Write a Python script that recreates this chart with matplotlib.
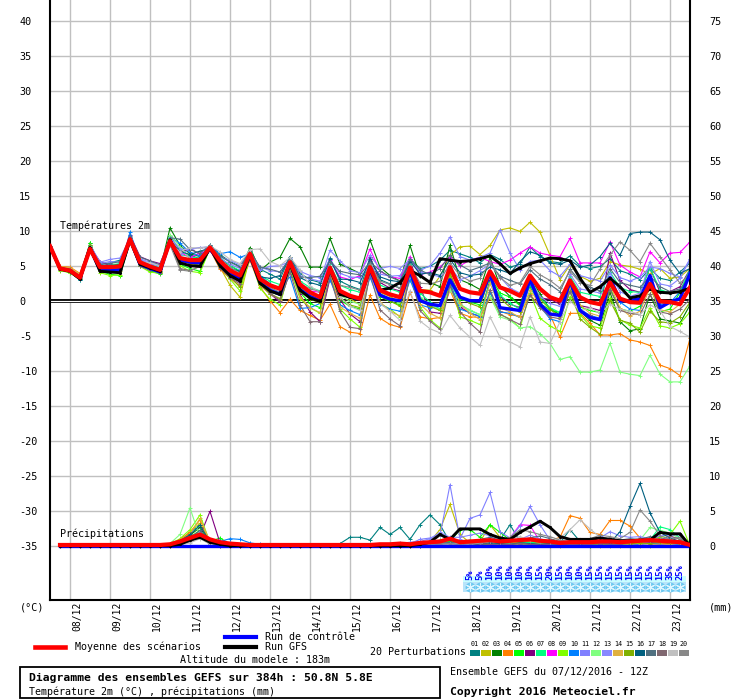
import matplotlib
matplotlib.use('Agg')
import matplotlib.pyplot as plt
import numpy as np
from matplotlib.lines import Line2D
from matplotlib.patches import Rectangle

# ---------------- data ----------------
step_hours = 6
dates = ["08/12", "09/12", "10/12", "11/12", "12/12", "13/12", "14/12", "15/12",
         "16/12", "17/12", "18/12", "19/12", "20/12", "21/12", "22/12", "23/12"]
left_ticks = [40, 35, 30, 25, 20, 15, 10, 5, 0, -5, -10, -15, -20, -25, -30, -35]
right_ticks = [75, 70, 65, 60, 55, 50, 45, 40, 35, 30, 25, 20, 15, 10, 5, 0]
member_names = ["01", "02", "03", "04", "05", "06", "07", "08", "09", "10",
                "11", "12", "13", "14", "15", "16", "17", "18", "19", "20"]
member_colors = ['#008080', '#c0c000', '#008000', '#ff8000', '#00ff00', '#800080',
                 '#00ff80', '#ff00ff', '#80ff00', '#0080ff', '#8080ff', '#80ff80',
                 '#8888ff', '#e0b040', '#80b000', '#006080', '#507080', '#806870',
                 '#c0c0c0', '#888888']
snow_labels = ["5%", "5%", "10%", "10%", "10%", "10%", "10%", "15%", "20%", "15%", "10%",
               "10%", "15%", "15%", "15%", "15%", "15%", "15%", "15%", "15%", "35%", "25%"]
snow_first_step = 42

# temperatures 2m (deg C), every 6h from 07/12 12Z
t01 = [7.8,4.5,4.2,3.2, 7.8,5.2,5.4,5.8, 8.9,5.8,5.1,4.6, 9.2,7.2,6.5,6.0, 8.0,6.6,5.6,4.9, 7.3,4.5,3.8,3.1, 6.3,3.9,3.0,2.6, 6.1,2.8,2.1,1.6, 6.2,3.0,2.4,1.8, 6.0,4.6,4.9,5.8, 7.2,6.7,6.2,5.4, 6.6,5.9,4.8,5.2, 7.7,6.3,5.6,5.4, 6.4,5.0,4.6,4.9, 6.0,4.3,3.8,3.0, 4.6,3.2,2.9,4.1, 5.4]
t02 = [7.8,4.8,4.6,3.5, 7.6,4.9,4.6,4.4, 8.7,5.2,4.5,4.0, 8.6,5.6,5.0,4.9, 7.4,4.8,2.2,0.5, 6.4,2.4,1.2,0.8, 5.3,1.8,0.6,0.2, 4.4,1.0,0.3,-0.6, 4.5,1.2,0.6,-0.3, 4.3,1.6,1.5,3.5, 6.5,7.7,7.8,6.6, 7.9,10.1,10.4,9.9, 11.2,9.8,6.5,3.0, 5.1,3.5,2.8,3.2, 5.6,5.1,4.9,4.5, 3.8,4.6,3.2,3.4, 4.6]
t03 = [7.8,4.6,4.5,3.6, 8.2,5.0,5.1,5.2, 9.0,5.3,4.7,4.3, 10.4,7.9,6.7,6.3, 7.8,6.0,5.0,4.2, 7.6,4.3,5.5,6.2, 8.9,7.7,4.8,4.8, 8.9,5.2,4.6,3.9, 8.7,4.8,3.6,2.8, 7.9,3.5,2.6,2.0, 7.9,3.0,2.4,1.6, 6.2,2.1,0.6,-0.5, 3.4,1.0,-1.2,-2.0, 2.0,-1.5,-2.8,-3.5, 1.2,-3.0,-4.3,-4.0, 1.0,-2.6,-2.9,-3.2, -0.6]
t04 = [7.8,4.9,4.8,3.9, 7.9,4.6,4.3,4.5, 9.1,5.4,4.8,4.1, 8.3,5.7,5.3,5.1, 7.3,4.5,3.2,2.1, 5.8,2.0,0.0,-1.7, 0.2,-1.4,-2.1,-2.8, -0.5,-3.7,-4.5,-4.7, 0.8,-2.5,-3.4,-3.8, 1.2,-2.3,-2.6,-2.4, 1.5,-1.8,-2.3,-2.4, 0.4,-1.5,-2.0,-2.2, 0.9,-0.8,-2.0,-5.2, -1.8,-1.8,-3.2,-4.9, -4.9,-4.7,-5.6,-5.9, -6.4,-9.2,-9.7,-10.7, -5.4]
t05 = [7.8,4.4,4.0,3.0, 8.3,4.2,3.8,3.6, 8.4,5.0,4.3,3.8, 8.7,5.2,4.6,4.2, 7.5,5.0,3.6,2.8, 6.5,2.6,1.3,0.8, 5.0,1.2,-0.4,-1.0, 4.3,0.1,-0.8,-1.2, 4.3,0.6,-0.1,-0.6, 4.5,0.4,-0.6,-1.3, 3.6,0.2,-0.2,-0.6, 3.5,1.1,0.5,-0.7, 2.0,-0.4,-1.3,-1.7, 2.3,-0.9,-1.4,-1.7, 1.7,-1.2,-1.5,-0.8, 2.1,-1.6,-1.2,1.2, 4.2]
t06 = [7.8,4.7,4.4,3.4, 7.7,5.6,5.0,4.6, 9.4,6.3,5.7,5.3, 8.7,6.9,7.5,6.6, 7.3,5.3,3.8,2.9, 5.9,2.2,1.0,-0.2, 4.2,0.9,-1.6,-3.0, 3.2,0.2,-1.9,-3.0, 6.3,2.6,1.8,1.4, 5.6,2.0,-1.6,-1.8, 2.2,-0.9,-1.8,-2.2, 3.0,0.6,-0.5,-1.0, 3.1,0.4,0.2,-0.5, 2.2,-0.7,-1.0,-1.4, 6.8,2.9,1.6,1.2, 4.7,1.2,1.3,2.0, 4.5]
t07 = [7.8,4.6,4.4,3.3, 7.6,4.9,5.1,5.3, 8.6,5.7,5.2,4.7, 8.9,6.6,6.3,6.0, 7.7,6.2,5.0,4.3, 6.9,3.6,2.8,2.3, 5.7,2.8,1.9,1.4, 5.2,2.2,1.6,1.2, 5.5,2.2,1.7,1.2, 5.2,1.1,-0.2,-1.2, 3.0,-0.5,-1.4,-2.0, 2.7,0.8,-0.4,-1.2, 3.4,0.4,-1.0,-1.7, 3.5,1.2,0.9,0.6, 4.1,1.9,1.3,1.2, 4.7,1.6,1.1,1.4, 4.5]
t08 = [7.8,4.6,4.2,3.2, 7.5,4.7,4.5,4.8, 8.8,5.6,5.0,4.5, 8.1,6.9,6.2,6.8, 7.2,5.0,3.4,2.7, 6.5,2.8,2.3,1.6, 5.2,2.6,1.4,1.2, 5.8,3.4,3.0,3.6, 7.4,4.2,3.4,3.2, 6.3,3.7,4.1,4.8, 6.2,5.0,5.8,6.2, 5.6,5.2,5.8,6.8, 7.7,6.8,6.5,6.3, 8.9,5.4,5.4,5.4, 8.4,5.1,4.1,3.4, 7.0,5.4,6.8,6.9, 8.4]
t09 = [7.8,4.3,4.0,3.1, 7.8,4.0,3.6,3.7, 8.5,4.9,4.1,3.9, 8.6,5.0,4.2,4.0, 7.5,4.9,3.1,1.4, 6.2,1.8,0.2,-0.6, 4.7,0.3,-1.0,-1.8, 3.8,-1.2,-2.6,-3.8, 4.1,-0.4,-1.2,-2.3, 3.4,-0.9,-2.7,-3.9, 3.1,-2.3,-2.8,-3.4, 1.2,-2.0,-2.6,-3.9, 1.1,-2.5,-3.6,-4.4, 0.6,-2.0,-3.6,-3.9, 0.4,-2.7,-3.5,-3.9, -1.0,-3.6,-3.9,-3.3, -1.6]
t10 = [7.8,4.5,4.1,3.0, 7.6,4.4,4.2,4.4, 9.8,5.6,5.0,4.6, 9.1,8.2,6.9,6.4, 7.8,6.7,7.0,6.2, 6.7,3.6,2.4,1.8, 3.4,-1.1,-1.0,-0.4, 3.0,-0.6,-1.4,-2.0, 3.4,-0.5,-1.2,-1.5, 3.0,-0.6,-1.0,-0.8, 2.5,-1.2,-1.7,-2.3, 1.2,-1.6,-1.8,-2.4, 2.4,-0.8,-2.6,-3.0, 2.2,-1.2,-2.1,-2.5, 2.8,-0.2,-1.2,-1.4, 3.2,-0.5,-0.3,1.3, 3.2]
t11 = [7.8,4.7,4.3,3.4, 7.9,5.3,5.6,5.5, 9.0,5.9,5.3,4.9, 8.8,6.5,7.4,7.6, 7.5,6.0,5.2,4.6, 6.5,4.4,4.9,5.0, 5.6,4.2,3.6,3.3, 5.9,3.9,3.4,3.3, 5.0,3.8,3.5,3.6, 6.0,4.3,5.0,6.8, 9.1,6.3,5.8,6.2, 6.8,10.1,6.8,4.4, 5.6,5.8,4.3,3.5, 5.2,3.6,3.2,2.8, 5.1,3.3,2.8,3.4, 4.8,4.6,3.9,3.4, 6.0]
t12 = [7.8,4.6,4.2,3.2, 7.8,4.5,4.4,4.2, 8.9,5.3,4.8,4.2, 9.4,7.7,6.0,5.3, 7.6,5.5,4.4,3.6, 6.6,3.0,1.8,1.2, 5.6,1.9,0.8,0.2, 4.6,0.8,-0.1,-0.5, 4.1,1.0,0.3,-0.4, 3.6,0.6,-0.6,-1.3, 1.6,-0.7,-1.3,-2.0, 0.6,-2.3,-2.8,-3.9, -3.7,-4.7,-6.1,-8.4, -8.0,-10.2,-10.2,-9.9, -6.1,-10.2,-10.5,-10.7, -7.8,-10.5,-11.6,-11.6, -9.3]
t13 = [7.8,4.8,4.5,3.6, 8.0,5.5,5.9,6.1, 8.9,6.0,5.5,5.1, 9.0,7.4,7.3,7.6, 7.7,6.2,5.8,5.1, 6.8,4.8,4.3,4.1, 6.1,3.6,3.1,2.8, 7.2,5.7,4.3,4.0, 6.5,4.6,4.9,4.6, 5.9,4.1,3.8,3.4, 4.8,3.0,3.5,4.3, 5.2,3.4,1.8,1.1, 3.1,0.6,-0.4,-0.8, 3.8,1.7,1.4,1.1, 4.0,1.3,0.6,1.1, 5.6,2.4,2.1,3.2, 5.9]
t14 = [7.8,4.9,4.7,3.8, 7.7,4.3,4.1,4.3, 8.7,5.4,4.9,4.4, 8.2,5.6,5.5,5.6, 7.6,5.1,3.9,3.0, 6.8,2.2,1.0,0.1, 5.6,0.6,-1.0,-1.7, 4.1,-0.9,-1.8,-2.5, 3.9,-0.2,-1.5,-2.2, 4.3,-0.5,-1.8,-2.5, 3.9,-0.4,-1.8,-2.7, 2.5,-1.0,-1.6,-2.4, 1.6,-0.6,-1.8,-2.2, 1.8,-0.6,-1.8,-2.2, 2.2,-1.0,-2.2,-1.5, 1.8,-1.3,-1.6,-0.5, 1.6]
t15 = [7.8,4.5,4.1,3.1, 7.9,4.7,4.5,4.6, 8.6,5.1,4.6,4.1, 8.8,5.7,5.4,5.0, 7.4,4.9,3.5,1.9, 6.4,2.4,1.0,0.3, 5.1,1.4,0.2,-0.3, 4.5,0.4,-0.6,-1.0, 4.7,0.8,0.0,-0.8, 4.6,0.0,-0.8,-1.4, 3.9,0.6,-0.4,-0.9, 3.6,0.3,-0.9,-1.6, 3.2,0.2,-1.2,-2.4, 1.4,-2.6,-3.8,-4.8, 0.0,-2.8,-3.2,-4.5, -1.5,-3.0,-3.2,-2.3, -0.2]
t16 = [7.8,4.6,4.3,3.3, 7.6,4.8,5.0,5.1, 8.9,5.6,5.0,4.5, 8.6,7.0,6.6,7.1, 7.4,5.8,4.6,4.2, 6.8,3.4,3.2,3.6, 6.3,3.3,2.6,2.2, 5.9,3.1,3.0,2.6, 5.9,3.4,2.9,2.7, 5.7,3.8,4.0,3.6, 5.9,4.0,3.6,3.8, 4.8,4.4,3.9,5.6, 7.0,6.5,5.4,5.2, 5.8,4.8,5.1,6.3, 8.2,6.5,9.6,9.8, 9.8,8.7,5.8,3.9, 4.6]
t17 = [7.8,4.7,4.5,3.5, 7.7,5.2,5.3,5.6, 9.2,6.2,5.7,5.1, 9.0,8.8,7.3,6.8, 7.9,6.4,5.5,4.8, 7.1,4.8,4.5,4.1, 6.0,3.4,3.3,3.5, 5.6,4.2,3.9,3.7, 5.5,4.3,3.4,2.8, 5.9,4.4,3.7,4.6, 6.5,5.1,4.3,4.8, 5.4,3.5,2.9,2.4, 4.4,3.1,2.3,1.3, 4.5,2.8,1.9,1.4, 4.6,2.6,2.2,1.9, 3.5,2.0,1.3,1.7, 3.3]
t18 = [7.8,4.4,4.1,3.1, 7.5,4.6,4.4,4.6, 8.7,4.9,4.4,4.0, 8.3,4.6,4.3,4.9, 7.5,4.7,3.3,2.4, 6.4,2.8,1.1,0.0, 4.1,-0.6,-3.0,-3.0, 3.6,-1.5,-3.8,-4.0, 4.0,-1.3,-2.6,-3.6, 3.9,-1.4,-2.9,-4.1, 2.2,-1.6,-3.2,-4.5, 1.6,-1.9,-2.7,-3.4, 0.8,-1.0,-2.3,-2.6, 1.3,-1.5,-2.1,-2.8, 1.6,-1.4,-1.8,-2.0, 0.9,-1.6,-1.9,-1.2, 0.2]
t19 = [7.8,4.6,4.3,3.3, 7.6,4.6,4.4,4.4, 8.8,5.6,5.4,5.0, 8.2,7.0,7.6,7.5, 7.8,7.0,5.9,5.3, 7.3,7.4,5.6,5.0, 6.2,4.4,2.1,1.2, 4.5,0.5,-0.8,-1.4, 4.2,-0.4,-1.5,-2.8, 1.4,-2.9,-4.0,-4.6, -2.1,-3.9,-5.2,-6.4, -2.3,-5.2,-5.9,-6.6, -2.3,-5.9,-6.1,-3.0, 0.0,-1.5,-1.0,-1.8, -0.5,-1.2,-1.5,-2.0, -0.6,-1.4,-3.7,-4.4, -5.2]
t20 = [7.8,4.8,4.4,3.4, 7.5,4.7,4.6,4.5, 8.8,5.5,4.8,4.3, 8.0,4.4,4.2,5.0, 7.2,5.6,4.8,3.9, 6.4,3.3,1.9,1.2, 5.3,2.5,1.7,1.3, 5.0,2.2,1.9,1.5, 5.2,2.8,2.3,1.8, 5.1,2.5,2.4,2.8, 5.4,3.6,2.8,3.2, 5.5,3.3,2.2,2.6, 4.9,3.7,2.9,1.8, 4.2,2.6,2.2,4.5, 6.5,8.4,7.2,5.6, 8.2,6.3,4.4,2.5, 3.8]
t_ctrl = [7.8,4.6,4.3,3.2, 7.5,4.4,4.3,4.4, 8.8,5.2,4.6,4.1, 8.6,5.8,5.5,5.4, 7.5,5.3,3.9,3.1, 6.6,2.6,1.5,0.9, 5.4,1.6,0.6,0.0, 4.6,1.2,0.5,0.3, 4.5,0.8,0.2,0.0, 4.3,0.0,-0.5,-0.7, 3.0,0.5,0.0,0.0, 4.0,-1.0,-1.2,-1.4, 3.1,-0.5,-1.9,-2.1, 2.9,-1.4,-2.4,-2.7, 3.3,0.0,0.0,0.3, 3.6,-1.0,-0.2,0.3, 3.9]
t_gfs = [7.8,4.5,4.2,3.1, 7.6,4.2,4.1,4.0, 8.7,5.2,4.7,4.2, 8.7,5.4,5.0,4.9, 7.6,5.0,3.6,2.8, 6.5,2.5,1.4,0.9, 5.3,1.5,0.4,-0.1, 4.5,0.9,0.5,0.4, 4.5,1.5,1.8,2.6, 4.3,3.6,2.6,6.0, 5.8,5.6,5.7,6.0, 6.4,5.3,3.9,4.7, 5.3,5.7,6.1,6.0, 5.7,3.2,1.2,2.0, 3.2,2.0,0.4,0.7, 1.7,1.2,1.1,1.3, 1.8]
t_mean = [7.8,4.6,4.3,3.3, 7.4,4.8,4.8,4.9, 8.8,5.5,4.9,4.4, 8.5,6.1,5.8,5.8, 7.6,5.7,4.3,3.6, 6.7,3.1,2.2,1.7, 5.5,2.3,1.2,0.5, 4.7,1.4,0.7,0.3, 4.8,1.5,0.9,0.5, 4.7,1.4,1.2,0.7, 4.8,1.7,1.2,1.0, 4.2,1.9,1.4,0.7, 3.6,1.7,0.5,0.0, 2.9,0.5,-0.2,-0.5, 2.6,0.3,-0.2,-0.3, 2.4,-0.1,-0.2,-0.5, 1.9]

# precipitation (mm / 6h), from step 1 (07/12 18Z) to step 64
p01 = [0,0,0,0,0,0,0,0, 0,0,0,0.1,0.8,1.9,3.0,0.6, 0.2,0,0,0,0,0,0,0, 0,0,0,0,0.3,1.2,1.2,0.8, 2.6,1.6,2.6,0.9,3.0,4.4,3.0,0.5, 0.1,0.3,0.2,0.5,0.8,3.0,0.6,0.2, 0.3,0.2,0.4,2.3,0.6,0.3,0.2,0.4, 0.3,0.2,0.5,0.3,0.2,0.6,0.4,0]
p02 = [0,0,0,0,0,0,0,0, 0,0,0,0.1,0.5,2.0,3.2,0.4, 0.1,0,0,0,0,0,0,0, 0,0,0,0,0,0,0,0, 0,0,0,0,0.2,0.6,2.3,5.9, 1.6,0.4,0.5,3.0,1.2,0.6,0.3,0.2, 0.1,0,0,0.2,0.1,0,0,0, 0,0,0,0,0.1,0.2,0.3,0]
p03 = [0,0,0,0,0,0,0,0, 0,0,0,0.1,0.6,1.5,2.6,0.3, 0.1,0,0,0,0,0,0,0, 0,0,0,0,0,0,0,0, 0,0,0,0,0.1,0.2,0.6,0.4, 0.3,0.5,0.6,0.4,0.2,0.5,0.8,0.6, 0.4,0.3,0.2,0.3,0.2,0.1,0.2,0.3, 0.2,0.4,0.6,0.5,0.4,0.3,0.6,0]
p04 = [0,0,0,0,0,0,0,0, 0,0,0,0.1,0.9,1.9,3.7,0.5, 0.4,0.3,0,0,0,0,0,0, 0,0,0,0,0,0,0,0, 0,0,0,0.1,0.3,0.2,0.4,0.6, 0.3,0.2,0.5,0.7,0.4,0.3,0.5,0.6, 0.4,0.7,1.2,4.3,3.9,1.9,1.6,3.6, 3.6,2.8,1.1,0.5,0.3,0.4,0.2,0]
p05 = [0,0,0,0,0,0,0,0, 0,0,0,0,0.4,1.2,2.2,0.6, 1.1,0.2,0,0,0,0,0,0, 0,0,0,0,0,0,0,0, 0,0,0,0,0.2,0.4,0.8,0.6, 2.3,2.3,1.2,3.0,1.9,0.8,0.4,0.2, 0.2,0.1,0.1,0.2,0.1,0,0.1,0.2, 0.3,0.2,0.2,0.4,0.6,0.8,0.5,0]
p06 = [0,0,0,0,0,0,0,0, 0,0,0,0,0.2,0.6,1.4,4.9, 0.4,0.2,0,0,0,0,0,0, 0,0,0,0,0,0,0,0, 0,0,0,0,0,0.1,0.2,0.3, 0.2,0.3,0.2,0.4,0.3,0.2,0.4,0.3, 0.2,0.1,0.1,0.2,0.1,0.1,0.2,0.1, 0.2,0.1,0.3,0.4,0.6,0.8,0.5,0]
p07 = [0,0,0,0,0,0,0,0, 0,0,0,0,0.3,0.9,1.8,0.4, 0.1,0,0,0,0,0,0,0, 0,0,0,0,0,0,0,0, 0,0,0,0,0.2,0.3,0.6,0.4, 0.5,0.8,0.3,0.6,0.4,0.3,0.3,0.5, 0.3,0.2,0.3,0.5,0.2,0.2,0.3,0.4, 0.3,0.5,0.6,0.8,2.7,2.3,1.1,0]
p08 = [0,0,0,0,0,0,0,0, 0,0,0,0,0.2,0.7,1.6,0.3, 0,0,0,0,0,0,0,0, 0,0,0,0,0,0,0,0, 0,0,0,0,0.1,0.2,0.4,0.3, 0.5,0.3,0.4,0.6,0.4,1.1,3.0,2.9, 0.6,0.3,0.2,0.3,0.2,0.1,0.2,0.3, 0.2,0.3,0.4,0.6,0.5,0.7,0.3,0]
p09 = [0,0,0,0,0,0,0,0, 0,0,0,0.2,1.0,2.3,4.4,0.4, 0.1,0,0,0,0,0,0,0, 0,0,0,0,0,0,0,0, 0,0,0,0,0,0.1,0.2,0.3, 0.2,0.4,0.5,0.3,0.2,0.3,0.4,0.2, 0.2,0.1,0.1,0.2,0.1,0.2,0.1,0.2, 0.3,0.2,0.4,0.8,1.2,1.6,3.5,0]
p10 = [0,0,0,0,0,0,0,0, 0,0,0,0,0.4,1.0,1.8,0.5, 0.6,1.0,0.9,0.4,0.2,0.1,0,0, 0,0,0,0,0,0,0,0, 0,0,0,0,0,0.1,0.2,0.3, 0.2,0.3,0.2,0.1,0.2,0.3,0.2,0.1, 0.1,0.2,0.1,0.1,0.2,0.3,0.2,0.1, 0.2,0.1,0.2,0.3,0.2,0.1,0.2,0]
p11 = [0,0,0,0,0,0,0,0, 0,0,0,0,0.3,0.8,2.0,0.4, 0,0,0,0,0,0,0,0, 0,0,0,0,0,0,0,0, 0,0.2,0.4,0.3,0.9,1.1,1.5,8.7, 1.0,3.9,4.4,7.6,2.0,1.1,2.8,5.6, 3.0,0.8,0.3,0.4,0.6,0.5,0.4,0.6, 0.5,0.4,0.6,0.8,0.9,1.1,1.2,0]
p12 = [0,0,0,0,0,0,0,0, 0,0,0,0.3,1.6,5.4,1.1,0.5, 0.2,0,0,0,0,0,0,0, 0,0,0,0,0,0,0,0, 0,0,0,0,0,0.1,0.2,0.3, 0.4,0.8,0.5,0.3,0.2,0.4,0.3,0.2, 0.1,0.2,0.3,0.2,0.1,0.2,0.1,0.2, 0.3,0.4,0.8,2.6,2.2,1.8,1.0,0]
p13 = [0,0,0,0,0,0,0,0, 0,0,0,0,0.2,0.6,1.3,0.3, 0,0,0,0,0,0,0,0, 0,0,0,0,0,0,0,0, 0,0.1,0.3,0.5,0.6,1.0,1.9,1.2, 1.2,1.5,1.8,1.4,1.0,0.7,0.9,1.5, 1.0,0.6,0.5,0.7,0.8,0.9,1.1,2.0, 1.4,1.2,1.3,1.0,1.4,1.5,1.6,0]
p14 = [0,0,0,0,0,0,0,0, 0,0,0,0.1,0.8,1.7,3.9,0.6, 0.3,0.2,0,0,0,0,0,0, 0,0,0,0,0,0,0,0, 0,0,0,0,0.1,0.1,0.2,0.2, 0.3,0.2,0.1,0.2,0.3,0.2,0.1,0.2, 0.3,0.2,0.1,0.2,0.3,0.2,0.1,0.2, 0.1,0.2,0.3,0.2,0.1,0.2,0.3,0]
p15 = [0,0,0,0,0,0,0,0, 0,0,0,0,0.3,0.9,1.5,0.3, 0.1,0,0,0,0,0,0,0, 0,0,0,0,0,0,0,0, 0,0,0,0,0,0.1,0.1,0.2, 0.1,0.2,0.1,0.2,0.1,0.2,0.3,0.2, 0.1,0.2,0.1,0.2,0.3,0.2,0.1,0.2, 0.2,0.3,0.4,0.3,0.5,0.4,0.3,0]
p16 = [0,0,0,0,0,0,0,0, 0,0,0,0.1,0.7,1.6,2.9,0.5, 0.1,0,0,0,0,0,0,0, 0,0,0,0,0,0,0,0, 0,0,0,0,0,0.1,0.2,0.3, 0.2,0.3,0.2,0.4,0.3,0.2,0.4,0.3, 0.2,0.3,0.2,0.3,0.2,0.4,0.3,0.4, 2.0,5.6,8.9,4.7,1.9,1.1,0.6,0]
p17 = [0,0,0,0,0,0,0,0, 0,0,0,0,0.4,1.1,2.2,0.5, 0.1,0,0,0,0,0,0,0, 0,0,0,0,0,0,0,0, 0,0,0,0,0.1,0.2,0.3,0.5, 0.3,0.6,0.9,1.2,0.8,0.6,0.9,1.1, 1.4,1.0,0.6,0.5,0.7,0.9,1.2,1.0, 0.8,1.0,0.9,1.3,1.0,0.8,0.6,0]
p18 = [0,0,0,0,0,0,0,0, 0,0,0,0,0.2,0.6,1.2,0.2, 0,0,0,0,0,0,0,0, 0,0,0,0,0,0,0,0, 0,0,0,0,0,0.1,0.1,0.2, 0.1,0.2,0.3,0.2,0.1,0.2,0.3,0.2, 0.1,0.2,0.3,0.2,0.1,0.2,0.3,0.2, 0.2,0.5,0.9,1.0,0.8,1.4,0.9,0]
p19 = [0,0,0,0,0,0,0,0, 0,0,0,0,0.1,0.4,1.0,0.2, 0,0,0,0,0,0,0,0, 0,0,0,0,0,0,0,0, 0,0,0,0,0,0.1,0.2,0.2, 0.3,0.2,0.4,0.6,0.5,0.9,1.3,0.8, 0.6,0.5,1.1,2.3,3.7,2.4,1.2,0.8, 0.6,0.5,0.8,1.0,0.9,0.7,0.4,0]
p20 = [0,0,0,0,0,0,0,0, 0,0,0,0,0.3,0.8,1.7,0.4, 0,0,0,0,0,0,0,0, 0,0,0,0,0,0,0,0, 0,0,0,0,0,0.1,0.2,0.3, 0.2,0.3,0.4,0.6,0.5,1.2,2.3,2.0, 1.6,1.3,0.8,0.6,0.4,1.0,1.5,1.3, 1.0,1.9,5.1,3.5,1.4,0.9,1.2,0]
p_ctrl = [0,0,0,0,0,0,0,0, 0,0,0,0,0,0,0,0, 0,0,0,0,0,0,0,0, 0,0,0,0,0,0,0,0, 0,0,0,0,0,0,0,0, 0,0,0,0,0,0,0,0, 0,0,0,0,0,0,0,0, 0,0,0,0,0,0,0,0]
p_gfs = [0,0,0,0,0,0,0,0, 0,0,0,0,0.2,0.8,1.2,0.5, 0.2,0,0,0,0,0,0,0, 0,0,0,0,0,0,0,0, 0,0,0,0,0.2,0.5,1.6,0.9, 2.4,2.4,2.4,1.6,1.1,0.9,1.9,2.7, 3.5,2.6,1.3,0.9,0.9,0.9,1.1,0.9, 0.7,0.7,0.8,0.8,1.9,1.7,1.7,0.0]
p_mean = [0.1,0.1,0.1,0.1,0.1,0.1,0.1,0.1, 0.1,0.1,0.1,0.2,0.6,1.1,1.6,0.9, 0.5,0.3,0.2,0.1,0.1,0.1,0.1,0.1, 0.1,0.1,0.1,0.1,0.1,0.1,0.1,0.1, 0.2,0.2,0.3,0.2,0.4,0.5,0.6,1.0, 0.5,0.6,0.7,0.8,0.6,0.7,0.8,0.9, 0.7,0.6,0.4,0.5,0.5,0.5,0.6,0.6, 0.5,0.6,0.7,0.8,0.7,0.6,0.5,0.1]

temps = [t01, t02, t03, t04, t05, t06, t07, t08, t09, t10,
         t11, t12, t13, t14, t15, t16, t17, t18, t19, t20]
precs = [p01, p02, p03, p04, p05, p06, p07, p08, p09, p10,
         p11, p12, p13, p14, p15, p16, p17, p18, p19, p20]

# ---------------- figure ----------------
W, H = 740, 700
MONO = 'DejaVu Sans Mono'
PREC_OFFSET = -35   # 0 mm drawn at -35 deg C on the shared axis

fig = plt.figure(figsize=(W / 100, H / 100), dpi=100)
fig.patch.set_facecolor('white')
ax = fig.add_axes([50 / W, 100 / H, 640 / W, 600 / H])
ax.set_xlim(0, 384)
ax.set_ylim(-42.76, 42.96)
ax.set_xticks([])
ax.set_yticks([])
ax.spines['top'].set_visible(False)
for s in ('left', 'right', 'bottom'):
    ax.spines[s].set_linewidth(1.5)
    ax.spines[s].set_color('black')


def fx(X):
    return X / W


def fy(Y):
    return 1 - Y / H


def ty(Y):   # pixel row -> data y
    return (300.7 - Y) / 7.0


def hx(X):   # pixel column -> data x (hours)
    return (X - 50) * 0.6


# grid
for v in left_ticks:
    ax.axhline(v, color='#c0c0c0', lw=1.0, zorder=0)
for k in range(len(dates)):
    ax.axvline(12 + 24 * k, color='#c0c0c0', lw=1.0, zorder=0)

# 0 deg double line
ax.axhline(0, color='black', lw=2.8, zorder=1)
ax.axhline(0, color='white', lw=0.9, zorder=1.1)

hours = np.arange(len(t_mean)) * step_hours
phours = hours[1:]

for t, p, c in zip(temps, precs, member_colors):
    ax.plot(hours, t, color=c, lw=0.8, marker='+', ms=2.6, mew=0.7, zorder=2)
    ax.plot(phours, np.array(p) + PREC_OFFSET, color=c, lw=0.8, marker='+', ms=2.6,
            mew=0.7, zorder=2)

ax.plot(hours, t_ctrl, color='#0000ff', lw=2.4, zorder=3)
ax.plot(phours, np.array(p_ctrl) + PREC_OFFSET, color='#0000ff', lw=2.4, zorder=3)
ax.plot(hours, t_gfs, color='black', lw=2.1, zorder=4, marker='.', ms=2.5)
ax.plot(phours, np.array(p_gfs) + PREC_OFFSET, color='black', lw=2.1, zorder=4,
        marker='.', ms=2.5)
ax.plot(hours, t_mean, color='#ff0000', lw=3.0, zorder=5)
ax.plot(phours, np.array(p_mean) + PREC_OFFSET, color='#ff0000', lw=3.0, zorder=5)

# in-plot labels
ax.text(hx(60), ty(226), "Températures 2m", family=MONO, size=7.2, va='center', ha='left')
ax.text(hx(60), ty(534), "Précipitations", family=MONO, size=7.2, va='center', ha='left')

# snow band
snow_hours = hours[snow_first_step:snow_first_step + len(snow_labels)]
ax.add_patch(Rectangle((hx(463), ty(582)), hx(686) - hx(463), ty(576) - ty(582),
                       color='#c8ffff', lw=0, zorder=2.5))
ax.add_patch(Rectangle((hx(463), ty(592)), hx(686) - hx(463), ty(582) - ty(592),
                       color='#b8e4fa', lw=0, zorder=2.5))
ax.scatter(snow_hours, [ty(587)] * len(snow_hours), s=50, marker='o', color='#6cc8f0',
           lw=0, zorder=2.6)
ax.scatter(snow_hours, [ty(587)] * len(snow_hours), s=34, marker=(6, 2, 0),
           color='#dff6ff', lw=0.8, zorder=2.7)
for h, lab in zip(snow_hours, snow_labels):
    ax.text(h, ty(580.5), lab, rotation=90, ha='center', va='bottom', color='#0000ff',
            family=MONO, size=6.3, weight='bold', zorder=3)

# axis labels
for v in left_ticks:
    Y = 300.7 - 7 * v
    fig.text(fx(19), fy(Y + 1.5), str(v), ha='left', va='center', family=MONO, size=7.3)
for v in right_ticks:
    Y = 300.7 - 7 * (v - 35)
    fig.text(fx(709), fy(Y + 1.5), str(v), ha='left', va='center', family=MONO, size=7.3)
fig.text(fx(20), fy(607), "(°C)", ha='left', va='center', family=MONO, size=7.3)
fig.text(fx(709), fy(607), "(mm)", ha='left', va='center', family=MONO, size=7.3)
for k, d in enumerate(dates):
    X = 70 + 40 * k
    fig.text(fx(X + 7), fy(602), d, rotation=90, ha='center', va='top',
             family=MONO, size=7.0)

# legend
fig.add_artist(Line2D([fx(35), fx(65)], [fy(647), fy(647)], color='#ff0000', lw=3.3,
                      transform=fig.transFigure))
fig.text(fx(75), fy(647), "Moyenne des scénarios", family=MONO, size=7.2, va='center')
fig.add_artist(Line2D([fx(225), fx(256)], [fy(637), fy(637)], color='#0000ff', lw=3.0,
                      transform=fig.transFigure))
fig.text(fx(265), fy(637), "Run de contrôle", family=MONO, size=7.2, va='center')
fig.add_artist(Line2D([fx(225), fx(256)], [fy(647), fy(647)], color='black', lw=3.0,
                      transform=fig.transFigure))
fig.text(fx(265), fy(647), "Run GFS", family=MONO, size=7.2, va='center')
fig.text(fx(180), fy(660), "Altitude du modele : 183m", family=MONO, size=7.2, va='center')
fig.text(fx(370), fy(652), "20 Perturbations", family=MONO, size=7.2, va='center')
for k, (n, c) in enumerate(zip(member_names, member_colors)):
    x0 = 470 + 11 * k
    fig.add_artist(Rectangle((fx(x0), fy(656)), 10 / W, 6 / H, color=c, lw=0,
                             transform=fig.transFigure))
    fig.text(fx(x0 + 5), fy(643.5), n, ha='center', va='center', family=MONO, size=4.9)

# title box
fig.add_artist(Rectangle((fx(20), fy(698)), 420 / W, 31 / H, fill=False, ec='black',
                         lw=1.3, transform=fig.transFigure))
fig.text(fx(29), fy(677.5), "Diagramme des ensembles GEFS sur 384h : 50.8N 5.8E",
         family=MONO, size=8.2, weight='bold', va='center')
fig.text(fx(29), fy(692), "Température 2m (°C) , précipitations (mm)",
         family=MONO, size=7.2, va='center')
fig.text(fx(450), fy(672.5), "Ensemble GEFS du 07/12/2016 - 12Z",
         family=MONO, size=7.2, va='center')
fig.text(fx(450), fy(691.5), "Copyright 2016 Meteociel.fr",
         family=MONO, size=8.2, weight='bold', va='center')

fig.savefig('out.png', dpi=100, facecolor='white')
